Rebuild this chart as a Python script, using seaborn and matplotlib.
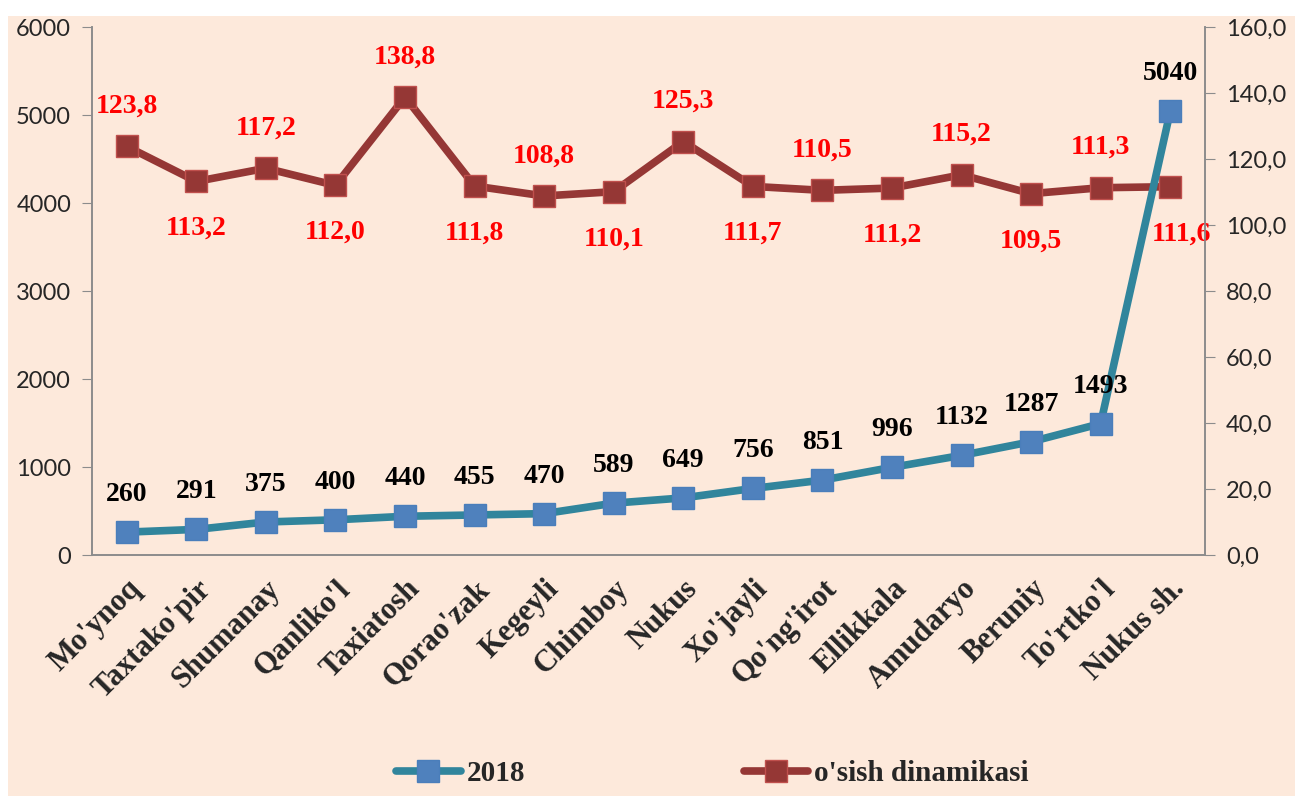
import pandas as pd
import seaborn as sns
import matplotlib.pyplot as plt
from matplotlib.patches import Rectangle
from matplotlib.ticker import FuncFormatter
from matplotlib.lines import Line2D

# Data
districts = ["Mo'ynoq", "Taxtako'pir", "Shumanay", "Qanliko'l", "Taxiatosh",
             "Qorao'zak", "Kegeyli", "Chimboy", "Nukus", "Xo'jayli",
             "Qo'ng'irot", "Ellikkala", "Amudaryo", "Beruniy", "To'rtko'l",
             "Nukus sh."]
values_2018 = [260, 291, 375, 400, 440, 455, 470, 589, 649, 756, 851, 996,
               1132, 1287, 1493, 5040]
growth = [123.8, 113.2, 117.2, 112.0, 138.8, 111.8, 108.8, 110.1, 125.3,
          111.7, 110.5, 111.2, 115.2, 109.5, 111.3, 111.6]

df = pd.DataFrame({"pos": range(len(districts)), "district": districts,
                   "v2018": values_2018, "growth": growth})

sns.set_style("white")
plt.rcParams['font.family'] = ['Lato', 'DejaVu Sans']

bg = "#FDE9DB"
teal = "#31859C"
blue = "#4F81BD"
red = "#953735"
grey = "#8C8C8C"

fig = plt.figure(figsize=(12.95, 7.96), dpi=100, facecolor="white")
fig.patches.append(Rectangle((8 / 1295, 0), 1, 1 - 16 / 796, transform=fig.transFigure,
                             facecolor=bg, edgecolor="none", zorder=-10))

ax = fig.add_axes([92 / 1295, 1 - 555 / 796, (1205 - 92) / 1295, (555 - 27) / 796])
ax2 = ax.twinx()
ax.set_zorder(ax2.get_zorder() + 1)
ax.patch.set_visible(False)
ax2.patch.set_visible(False)

# growth line (right axis)
sns.lineplot(data=df, x="pos", y="growth", ax=ax2, color=red, linewidth=5.5,
             marker="s", markersize=16, markerfacecolor=red,
             markeredgecolor="#C0504D", markeredgewidth=1, legend=False)
# 2018 line (left axis)
sns.lineplot(data=df, x="pos", y="v2018", ax=ax, color=teal, linewidth=5.5,
             marker="s", markersize=16, markerfacecolor=blue,
             markeredgecolor="#4A7EBB", markeredgewidth=1, legend=False)

ax.set_xlim(-0.5, len(districts) - 0.5)
ax.set_ylim(0, 6000)
ax2.set_ylim(0, 160)
ax.set_yticks(range(0, 6001, 1000))
ax2.set_yticks(range(0, 161, 20))
ax2.yaxis.set_major_formatter(FuncFormatter(lambda v, p: f"{v:.1f}".replace(".", ",")))

ax.set_xticks([p - 0.5 for p in range(len(districts) + 1)])
ax.set_xticklabels([])
ax.set_xticks(range(len(districts)), minor=True)
ax.set_xticklabels(districts, minor=True, rotation=45, ha="right",
                   rotation_mode="anchor", family="Liberation Serif",
                   fontweight="bold", fontsize=22)
ax.tick_params(axis="x", which="minor", length=0, pad=14)
ax.tick_params(axis="x", which="major", length=8, color=grey, direction="out")
ax.tick_params(axis="y", length=7, color=grey, labelsize=17, pad=8, left=True)
ax2.tick_params(axis="y", length=7, color=grey, labelsize=17, pad=8, right=True)
ax.set_xlabel("")
ax.set_ylabel("")
ax2.set_ylabel("")

for a in (ax, ax2):
    a.spines["top"].set_visible(False)
    for s in ("left", "right", "bottom"):
        a.spines[s].set_color(grey)
        a.spines[s].set_linewidth(1.2)

# data labels
for i, v in enumerate(values_2018):
    ax.annotate(str(v), (i, v), xytext=(0, 27), textcoords="offset points",
                ha="center", va="center", family="Liberation Serif",
                fontweight="bold", fontsize=20, color="black")

for i, g in enumerate(growth):
    above = i % 2 == 0
    dx = 8 if i == len(growth) - 1 else 0
    dy = 29 if above else -34
    ax2.annotate(f"{g:.1f}".replace(".", ","), (i, g), xytext=(dx, dy),
                 textcoords="offset points", ha="center", va="center",
                 family="Liberation Serif", fontweight="bold", fontsize=20,
                 color="#FF0000", zorder=5)

handles = [Line2D([], [], color=teal, linewidth=5.5, marker="s", markersize=16,
                  markerfacecolor=blue, markeredgecolor="#4A7EBB"),
           Line2D([], [], color=red, linewidth=5.5, marker="s", markersize=16,
                  markerfacecolor=red, markeredgecolor="#C0504D")]
fig.legend(handles, ["2018", "o'sish dinamikasi"], loc="center",
           bbox_to_anchor=(0.55, 0.028), ncol=2, frameon=False,
           prop={"family": "Liberation Serif", "weight": "bold", "size": 21},
           handlelength=2.2, handletextpad=0.2, columnspacing=7.5)

fig.savefig("out.png", dpi=100, facecolor=fig.get_facecolor())
